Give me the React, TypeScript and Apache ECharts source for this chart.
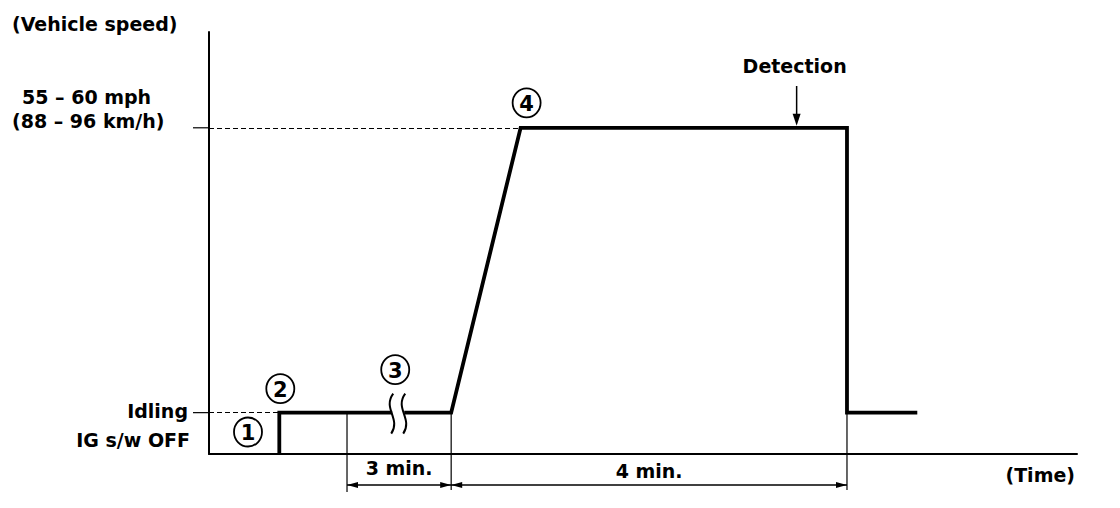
import React, { useEffect, useRef } from "react";
import * as echarts from "echarts";

// ---- data (arbitrary time units 0..100, speed level 0..100) ----
const timeKnots = [8.1, 8.1, 27.9, 35.9, 73.5, 73.5, 81.6];
const speedLevels = [0, 9.8, 9.8, 77.3, 77.3, 9.8, 9.8];
const idleLevel = 9.8;
const cruiseLevel = 77.3;
const threeMinStart = 15.9;
const squiggleTime = 21.8;
const detectionTime = 67.7;
const yLevelLabels = ["Idling", "55 – 60 mph", "(88 – 96 km/h)"];
const otherLabels = ["(Vehicle speed)", "IG s/w OFF", "(Time)", "Detection"];
const intervalLabels = ["3 min.", "4 min."];
const stepNumbers = ["1", "2", "3", "4"];

const FONT = "DejaVu Sans";
const TXT = (size: number) => `bold ${size}px "${FONT}"`;

function txt(x: number, y: number, text: string, align = "left", size = 19, extra: any = {}) {
  return {
    type: "text",
    z: 110,
    x,
    y,
    style: {
      text,
      font: TXT(size),
      fill: "#000",
      align,
      verticalAlign: "middle",
      textAlign: align,
      textVerticalAlign: "middle",
    },
    ...extra,
  };
}

function line(x1: number, y1: number, x2: number, y2: number, w = 1.2, extra: any = {}) {
  return {
    type: "line",
    z: 105,
    shape: { x1, y1, x2, y2 },
    style: { stroke: "#000", lineWidth: w, ...extra },
  };
}

function arrow(x: number, y: number, dir: number) {
  // dir: -1 points left, 1 points right
  const L = 11, H = 3;
  return {
    type: "polygon",
    z: 106,
    shape: { points: [[x, y], [x - dir * L, y - H], [x - dir * L, y + H]] },
    style: { fill: "#000" },
  };
}

export default function App() {
  const ref = useRef<HTMLDivElement>(null);
  useEffect(() => {
    if (!ref.current) return;
    const chart = echarts.init(ref.current, null, { renderer: "svg" });
    const axisStyle = { show: true, lineStyle: { color: "#000", width: 2 } };
    chart.setOption({
      animation: false,
      backgroundColor: "#fff",
      grid: { left: 209, right: 43, top: 32, bottom: 54 },
      xAxis: {
        type: "value",
        min: 0,
        max: 100,
        axisLine: axisStyle,
        axisTick: { show: false },
        axisLabel: { show: false },
        splitLine: { show: false },
      },
      yAxis: {
        type: "value",
        min: 0,
        max: 100,
        axisLine: axisStyle,
        axisTick: { show: false },
        axisLabel: { show: false },
        splitLine: { show: false },
      },
      series: [
        {
          type: "line",
          data: timeKnots.map((t, i) => [t, speedLevels[i]]),
          symbol: "none",
          clip: false,
          lineStyle: { color: "#000", width: 3.8, join: "miter", cap: "butt" },
          markLine: {
            silent: true,
            symbol: ["none", "none"],
            label: { show: false },
            lineStyle: { color: "#000", width: 1.2, type: [5, 3] },
            data: [
              [{ coord: [0, cruiseLevel] }, { coord: [timeKnots[3], cruiseLevel] }],
              [{ coord: [0, idleLevel] }, { coord: [timeKnots[0], idleLevel] }],
            ],
          },
        },
      ],
    });

    const P = (x: number, y: number) => chart.convertToPixel({ gridIndex: 0 }, [x, y]) as number[];
    const [axisX, axisY] = P(0, 0);
    const idleY = P(0, idleLevel)[1];
    const highY = P(0, cruiseLevel)[1];
    const xStep = P(timeKnots[0], 0)[0];
    const x3 = P(threeMinStart, 0)[0];
    const xRamp = P(timeKnots[2], 0)[0];
    const xTop = P(timeKnots[3], 0)[0];
    const xDrop = P(timeKnots[4], 0)[0];
    const xSq = P(squiggleTime, 0)[0];
    const xDet = P(detectionTime, 0)[0];
    const dimY = axisY + 31;

    const g: any[] = [];
    // extension lines
    g.push(line(x3, idleY, x3, axisY + 38, 1.2));
    g.push(line(xRamp, idleY, xRamp, axisY + 36, 1.2));
    g.push(line(xDrop, idleY, xDrop, axisY + 36, 1.2));
    // dimension line + arrows
    g.push(line(x3, dimY, xDrop, dimY, 1.5));
    g.push(arrow(x3, dimY, -1));
    g.push(arrow(xRamp, dimY, 1));
    g.push(arrow(xRamp, dimY, -1));
    g.push(arrow(xDrop, dimY, 1));
    g.push(txt((x3 + xRamp) / 2, axisY + 14, intervalLabels[0], "center"));
    g.push(txt((xRamp + xDrop) / 2, axisY + 17, intervalLabels[1], "center"));

    // left labels
    g.push(txt(12, 24, otherLabels[0], "left"));
    g.push(txt(22, highY - 31, yLevelLabels[1], "left"));
    g.push(txt(12, highY - 7, yLevelLabels[2], "left"));
    g.push(line(axisX - 16, highY, axisX, highY, 1.2));
    g.push(txt(axisX - 21, idleY - 2, yLevelLabels[0], "right"));
    g.push(line(axisX - 16, idleY, axisX, idleY, 1.2));
    g.push(txt(190, axisY - 14, otherLabels[1], "right"));
    g.push(txt(1075, axisY + 21, otherLabels[2], "right"));

    // detection
    g.push(txt(xDet - 2, 66, otherLabels[3], "center"));
    g.push(line(xDet, 86, xDet, highY - 10, 1.5));
    g.push({
      type: "polygon",
      z: 106,
      shape: { points: [[xDet, highY - 2], [xDet - 4, highY - 14], [xDet + 4, highY - 14]] },
      style: { fill: "#000" },
    });

    // squiggle break
    g.push({
      type: "rect",
      z: 104,
      shape: { x: xSq - 6, y: idleY - 5, width: 12, height: 10 },
      style: { fill: "#fff" },
    });
    [-6, 6].forEach((dx) => {
      const cx = xSq + dx;
      g.push({
        type: "bezierCurve",
        z: 106,
        shape: {
          x1: cx + 1, y1: idleY - 19,
          cpx1: cx - 10, cpy1: idleY - 4,
          cpx2: cx + 9, cpy2: idleY + 6,
          x2: cx - 1, y2: idleY + 21,
        },
        style: { stroke: "#000", lineWidth: 2, fill: null },
      });
    });

    // circled step numbers
    const circles = [
      [axisX + 39, axisY - 22],
      [xStep + 1, idleY - 24],
      [xSq - 3, idleY - 43],
      [xTop + 6, highY - 25],
    ];
    circles.forEach(([cx, cy], i) => {
      g.push({
        type: "ellipse",
        z: 107,
        shape: { cx, cy, rx: 14, ry: 14.5 },
        style: { fill: "#fff", stroke: "#000", lineWidth: 1.8 },
      });
      g.push(txt(cx, cy + 1, stepNumbers[i], "center", 21, { z: 108 }));
    });

    chart.setOption({ graphic: { elements: g } });
    return () => chart.dispose();
  }, []);
  return (
    <div
      ref={ref}
      style={{ position: "fixed", left: 0, top: 0, width: 1120, height: 508, background: "#fff" }}
    />
  );
}
